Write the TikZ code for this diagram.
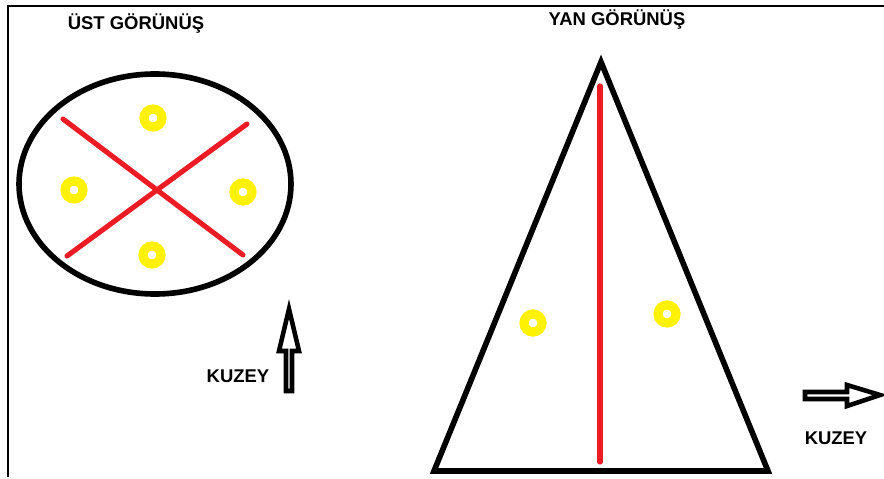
\documentclass[tikz,border=0pt]{standalone}
\usepackage{fontspec}
\setmainfont{Liberation Sans}
\definecolor{penred}{RGB}{237,28,36}
\definecolor{penyellow}{RGB}{255,242,0}
\tikzset{
    outline/.style={line width=3.2pt, black},
    redline/.style={line width=2.9pt, penred, line cap=round},
    ring/.style={line width=5.2pt, penyellow},
    hollowarrow/.style={line width=2.6pt, black, fill=white, line join=miter},
    caption/.style={font=\bfseries\fontsize{10.5}{12}\selectfont, anchor=base, inner sep=0pt}
}
\begin{document}
\begin{tikzpicture}[x=0.02cm, y=-0.02cm]
    \useasboundingbox (0,0) rectangle (884,479);
    % frame (top and left edge only)
    \draw[line width=1.7pt] (884,6) -- (8,6) -- (8,477);

    % Top view (left)
    \node[caption] (toptitle) at (136,30) {ÜST GÖRÜNÜŞ};
    \draw[outline] (155,184) ellipse [x radius=136, y radius=110];
    \draw[redline] (63,119) -- (243,255);
    \draw[redline] (67,256) -- (247,124);
    \foreach \px/\py in {153/118, 74/190, 243/192, 152/255}
        \draw[ring] (\px,\py) circle (9);
    % north arrow, pointing up
    \draw[hollowarrow] (289,309) -- (299,351) -- (292,351) -- (292,391)
        -- (286,391) -- (286,351) -- (279,351) -- cycle;
    \node[caption] (northleft) at (238,382) {KUZEY};

    % Side view (right)
    \node[caption] (sidetitle) at (617,26) {YAN GÖRÜNÜŞ};
    \draw[outline, line join=miter] (601,62) -- (768,471) -- (434,471) -- cycle;
    \draw[redline] (600,86) -- (600,462);
    \foreach \px/\py in {533/323, 667/314}
        \draw[ring] (\px,\py) circle (9);
    % north arrow, pointing right
    \draw[hollowarrow] (880,395) -- (847,385) -- (847,392) -- (805,392)
        -- (805,399) -- (847,399) -- (847,406) -- cycle;
    \node[caption] (northright) at (836,444) {KUZEY};
\end{tikzpicture}
\end{document}
